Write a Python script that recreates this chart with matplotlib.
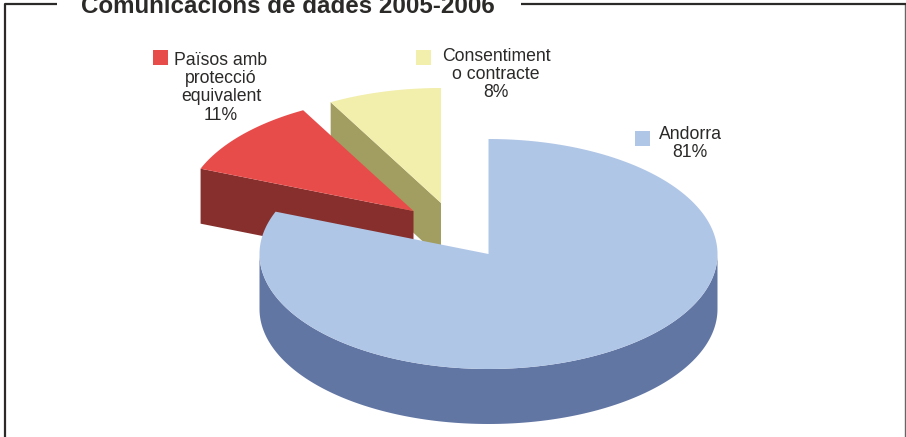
"""
Pie chart with exploded slices: Comunicacions de dades 2005-2006.
"""
import matplotlib
matplotlib.use("Agg")
import matplotlib.pyplot as plt
import numpy as np
from matplotlib.patches import Polygon

LABELS = ["Andorra", "Països amb\nprotecció\nequivalent", "Consentiment\no contracte"]
VALUES = [81, 11, 8]
PCT_LABELS = ["81%", "11%", "8%"]

TOP_COLORS = ["#B0C6E6", "#E84C4A", "#F2EEAC"]
SIDE_COLORS = ["#6276A4", "#862F2D", "#A29D60"]
TEXT_COLOR = "#2B2A29"

# pie centre of each slice in pixels (exploded ones are shifted)
CENTERS = [(488.5, 254), (413.5, 211), (441, 203)]
RX, RY = 229, 115
DEPTH = 55

# legend key (x, y) and text centre (x, top y)
KEYS = [(635, 131), (153, 50), (416, 50)]
TEXT_POS = [(690, 126), (221, 52), (496, 48)]

plt.rcParams["font.family"] = ["Liberation Sans", "DejaVu Sans"]

fig = plt.figure(figsize=(9.06, 4.37), dpi=100)
ax = fig.add_axes([0, 0, 1, 1])
ax.set_xlim(0, 906)
ax.set_ylim(437, 0)
ax.axis("off")


def rim(center, a0, a1, n=200):
    """Points on the ellipse, angles in degrees clockwise from the top."""
    t = np.radians(np.linspace(a0, a1, n))
    return np.column_stack([center[0] + RX * np.sin(t), center[1] - RY * np.cos(t)])


# slice angles, clockwise from 12 o'clock
stops = np.cumsum([0] + VALUES) / sum(VALUES) * 360

# frame, broken around the title
ax.plot([905, 905], [4, 437], color="#666666", lw=1.0, solid_capstyle="butt")
ax.plot([57, 5, 5], [4, 4, 437], color=TEXT_COLOR, lw=1.6, solid_capstyle="butt")
ax.plot([521, 906], [4, 4], color=TEXT_COLOR, lw=1.6, solid_capstyle="butt")
ax.text(288, 13, "Comunicacions de dades 2005-2006", fontsize=17.4, fontweight="bold",
        color=TEXT_COLOR, ha="center", va="baseline")

# back slices first: yellow, then red, then the big one on top
for i in [2, 1]:
    c = CENTERS[i]
    # radial cut face that is visible from the front
    p = rim(c, stops[i], stops[i + 1], 2)[0]
    face = [p, c, (c[0], c[1] + DEPTH), (p[0], p[1] + DEPTH)]
    ax.add_patch(Polygon(face, closed=True, fc=SIDE_COLORS[i], ec="none"))
    top = np.vstack([[c], rim(c, stops[i], stops[i + 1])])
    ax.add_patch(Polygon(top, closed=True, fc=TOP_COLORS[i], ec="none"))

c = CENTERS[0]
front = rim(c, 90, 270)
wall = np.vstack([front, (front + [0, DEPTH])[::-1]])
ax.add_patch(Polygon(wall, closed=True, fc=SIDE_COLORS[0], ec="none"))
top = np.vstack([[c], rim(c, stops[0], stops[1], 400)])
ax.add_patch(Polygon(top, closed=True, fc=TOP_COLORS[0], ec="none"))

# labels with their colour keys
for i in range(3):
    ax.add_patch(plt.Rectangle(KEYS[i], 15, 15, fc=TOP_COLORS[i], ec="none"))
    ax.text(TEXT_POS[i][0], TEXT_POS[i][1], f"{LABELS[i]}\n{PCT_LABELS[i]}", fontsize=12.7,
            color=TEXT_COLOR, ha="center", va="top", linespacing=1.09)

fig.savefig("out.png", dpi=100)
